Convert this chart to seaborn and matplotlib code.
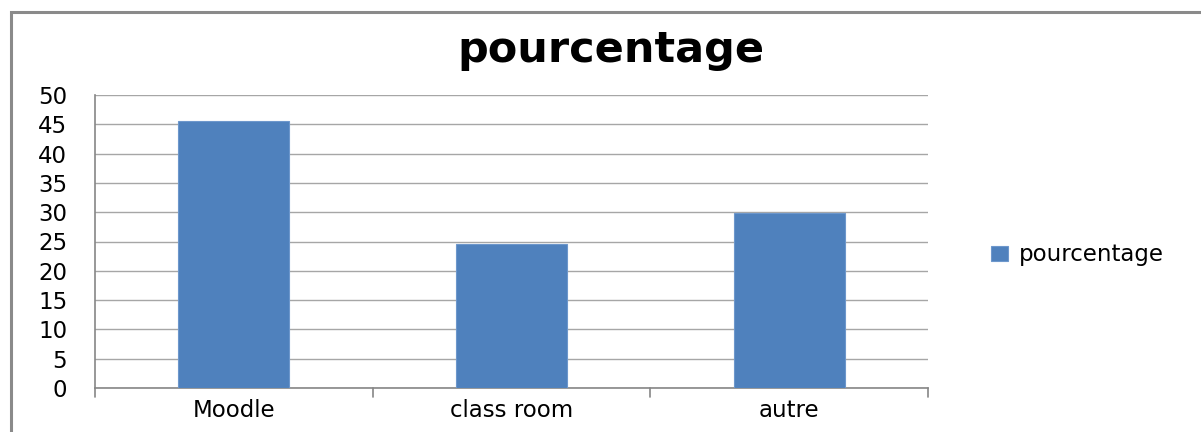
import pandas as pd
import matplotlib.pyplot as plt
import seaborn as sns

# Chart values
categories = ["Moodle", "class room", "autre"]
values = [45.6, 24.6, 29.8]
series_name = "pourcentage"
y_ticks = [0, 5, 10, 15, 20, 25, 30, 35, 40, 45, 50]

df = pd.DataFrame({"categorie": categories, series_name: values})

sns.set_style("white")
plt.rcParams['font.family'] = ['DejaVu Sans']
plt.rcParams['text.color'] = "black"

fig = plt.figure(figsize=(12.01, 4.32), dpi=100)
ax = fig.add_axes([95 / 1201, 1 - 388 / 432, (928 - 95) / 1201, (388 - 95) / 432])

sns.barplot(data=df, x="categorie", y=series_name, color="#4F81BD",
            width=0.4, saturation=1, ax=ax, label=series_name, zorder=3,
            edgecolor="#6d97cc", linewidth=0.8)

ax.set_ylim(0, 50)
ax.set_xlim(-0.5, 2.5)
ax.set_yticks(y_ticks)
ax.tick_params(axis="y", labelsize=16.5, length=9, color="#868686", labelcolor="black", pad=11)
ax.tick_params(axis="x", labelsize=16.5, length=0, pad=8, labelcolor="black")
ax.set_xticks(range(len(categories)))
ax.set_xticklabels(categories)
# category boundary tick marks
for b in [-0.5, 0.5, 1.5, 2.5]:
    ax.plot([b, b], [0, -0.03], transform=ax.get_xaxis_transform(), color="#868686",
            lw=1.2, clip_on=False)
ax.yaxis.grid(True, color="#a6a6a6", lw=1.0, zorder=0)
ax.set_axisbelow(True)
for s in ["top", "right"]:
    ax.spines[s].set_visible(False)
for s in ["left", "bottom"]:
    ax.spines[s].set_color("#868686")
    ax.spines[s].set_linewidth(1.2)
ax.set_xlabel("")
ax.set_ylabel("")

fig.text(611 / 1201, 1 - 50 / 432, series_name, ha="center", va="center",
         fontsize=31, fontweight="bold", color="black")

ax.legend(loc="center left", bbox_to_anchor=(970 / 1201, 1 - 255 / 432),
          bbox_transform=fig.transFigure, frameon=False, fontsize=16.5,
          handlelength=0.75, handleheight=0.65, handletextpad=0.5)

# outer chart border (partially cut off like the original)
border = plt.Rectangle((11 / 1201, -0.05), 1.1, 1 - 12 / 432 + 0.05, transform=fig.transFigure,
                       fill=False, edgecolor="#8a8a8a", lw=2.2)
fig.add_artist(border)

fig.savefig("out.png", dpi=100)
